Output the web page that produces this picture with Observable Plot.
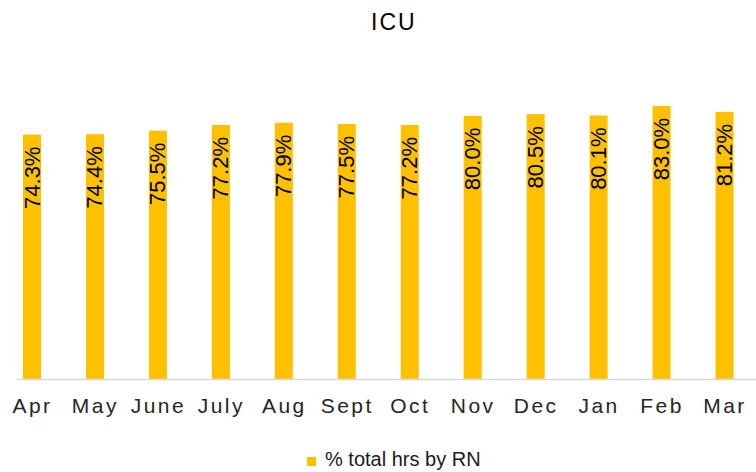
<!DOCTYPE html>
<html><head><meta charset="utf-8">
<script src="https://cdn.jsdelivr.net/npm/d3@7"></script>
<script src="https://cdn.jsdelivr.net/npm/@observablehq/plot@0.6"></script>
<style>
body{margin:0;background:#fff;}
#wrap{position:relative;width:756px;height:472px;overflow:hidden;font-family:"Liberation Sans",Arial,sans-serif;}
#title{position:absolute;left:371px;top:11px;font-size:23px;line-height:23px;letter-spacing:2px;color:#000;white-space:nowrap;}
#chart{position:absolute;left:0;top:40px;}
#legend{position:absolute;left:307px;top:449px;font-size:20px;line-height:20px;color:#1a1a1a;white-space:nowrap;}
#legend .sw{display:inline-block;width:9px;height:9px;background:#FFC000;margin-right:9px;vertical-align:0px;}
#chart svg g[aria-label="x-axis tick label"] text{letter-spacing:2.5px;}
</style></head><body>
<div id="wrap">
<div id="title">ICU</div>
<div id="chart"></div>
<div id="legend"><span class="sw"></span>% total hrs by RN</div>
</div>
<script>
const months = ["Apr","May","June","July","Aug","Sept","Oct","Nov","Dec","Jan","Feb","Mar"];
const values = [74.3,74.4,75.5,77.2,77.9,77.5,77.2,80.0,80.5,80.1,83.0,81.2];
const seriesName = "% total hrs by RN";
const data = months.map((m,i)=>({month:m, value:values[i], series:seriesName}));

const chart = Plot.plot({
  width:756, height:400,
  marginLeft:0.5, marginRight:0, marginTop:10, marginBottom:61,
  style:{fontFamily:'"Liberation Sans", Arial, sans-serif', background:"transparent", color:"#262626", overflow:"visible"},
  x:{domain:months, paddingInner:0.714, paddingOuter:0.357, align:0.5, round:false, label:null},
  y:{domain:[0,100], axis:null},
  marks:[
    Plot.barY(data,{x:"month", y:"value", fill:"#FFC000"}),
    Plot.ruleY([0],{stroke:"#d9d9d9", strokeWidth:1.5, insetLeft:16.5}),
    Plot.text(data,{x:"month", y:"value", text:d=>d.value.toFixed(1)+"%", rotate:-90, textAnchor:"end", dy:11.5, fontSize:22, fill:"#000"}),
    Plot.axisX({tickSize:0, tickPadding:19, fontSize:21, fill:"#262626", label:null})
  ]
});
document.getElementById("chart").appendChild(chart);
</script>
</body></html>
